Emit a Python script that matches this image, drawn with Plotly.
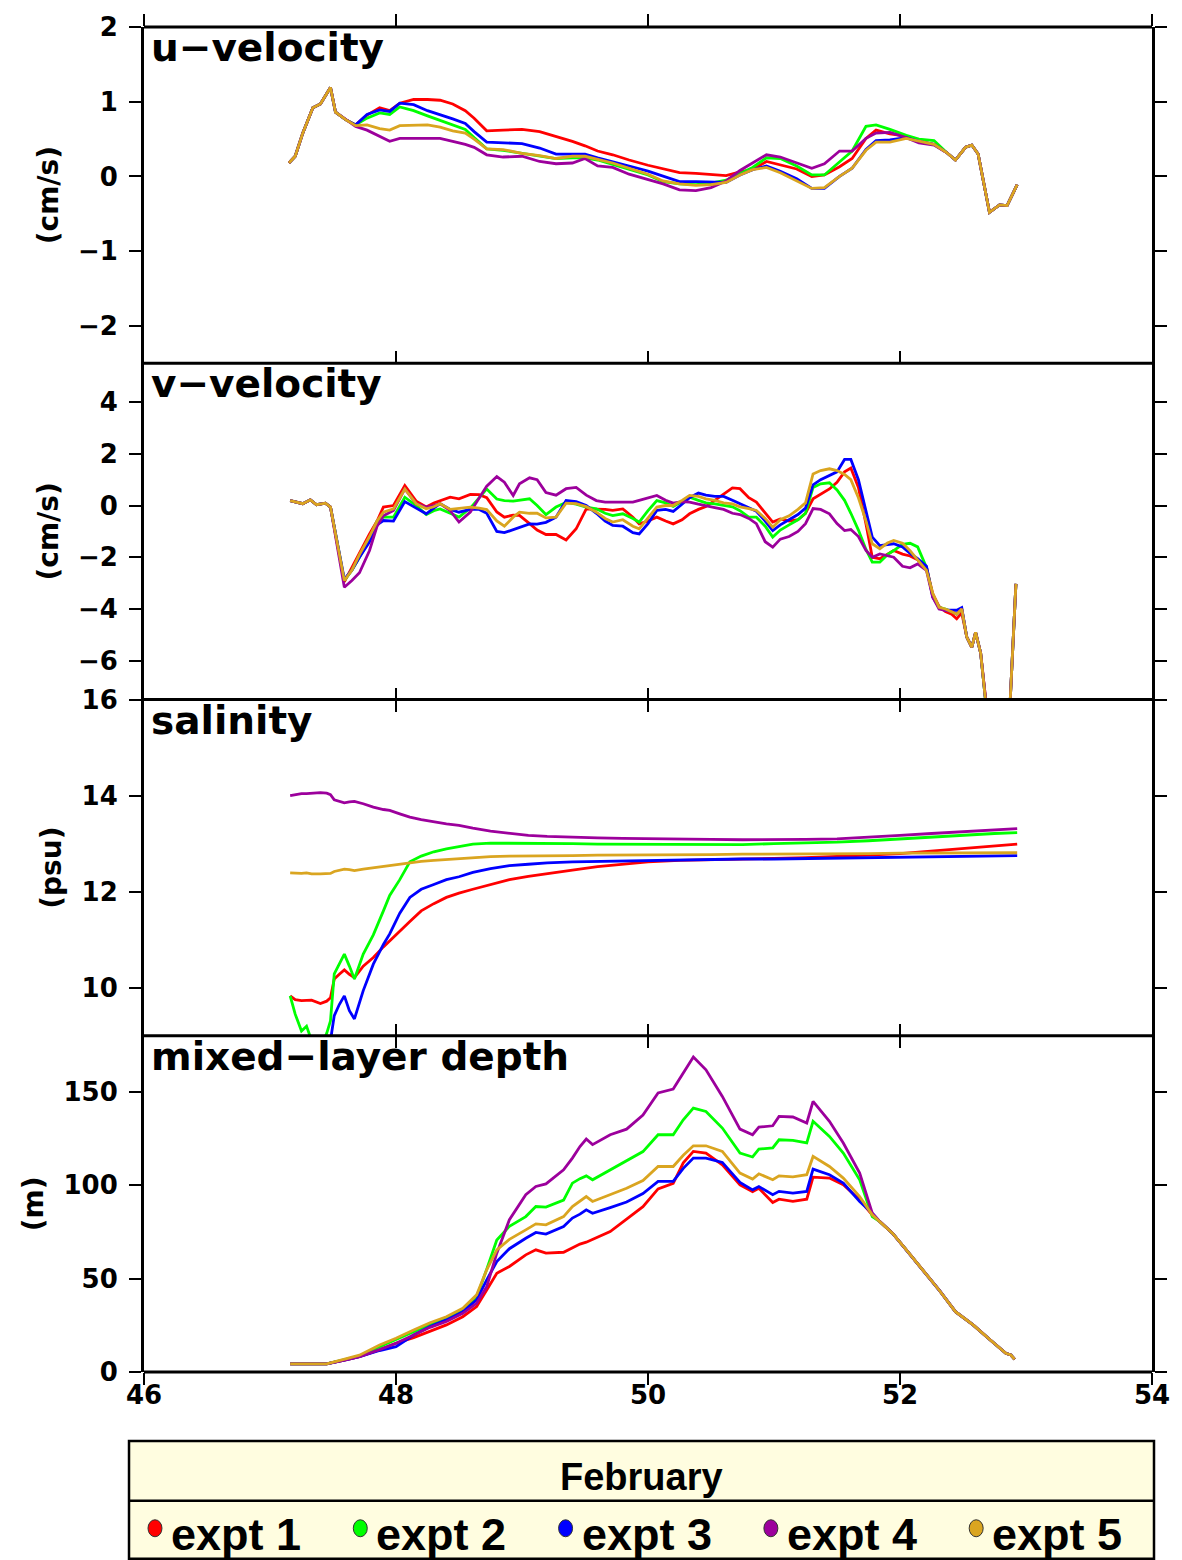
import plotly.graph_objects as go

# ---------------- data ----------------
SERIES_NAMES = ["expt 1", "expt 2", "expt 3", "expt 4", "expt 5"]
SERIES_COLORS = ["#FF0000", "#00FF00", "#0000FF", "#9C009C", "#DAA520"]
PANEL_TITLES = ["u\u2212velocity", "v\u2212velocity", "salinity", "mixed\u2212layer depth"]
PANEL_UNITS = ["(cm/s)", "(cm/s)", "(psu)", "(m)"]
LEGEND_TITLE = "February"

X_TICKS = [46, 48, 50, 52, 54]
U_TICKS = [-2, -1, 0, 1, 2]
V_TICKS = [-6, -4, -2, 0, 2, 4]
S_TICKS = [10, 12, 14, 16]
M_TICKS = [0, 50, 100, 150]

# u-velocity
X_U = [47.15, 47.2, 47.26, 47.34, 47.4, 47.48, 47.52, 47.6, 47.68, 47.77, 47.87, 47.95, 48.03, 48.14,
       48.25, 48.35, 48.45, 48.55, 48.62, 48.72, 48.85, 49.0, 49.14, 49.27, 49.4, 49.5, 49.6, 49.72,
       49.85, 50.0, 50.12, 50.25, 50.38, 50.5, 50.62, 50.73, 50.83, 50.94, 51.05, 51.18, 51.3, 51.4,
       51.52, 51.62, 51.73, 51.81, 51.92, 52.05, 52.15, 52.27, 52.37, 52.44, 52.52, 52.57, 52.62,
       52.71, 52.79, 52.85, 52.93]
U_E1 = [0.18, 0.27, 0.58, 0.92, 0.97, 1.19, 0.86, 0.76, 0.69, 0.82, 0.92, 0.88, 0.98, 1.03, 1.03, 1.02,
        0.97, 0.88, 0.78, 0.61, 0.62, 0.63, 0.60, 0.54, 0.47, 0.41, 0.34, 0.29, 0.22, 0.15, 0.10, 0.05,
        0.04, 0.02, 0.01, 0.06, 0.09, 0.20, 0.15, 0.10, 0.00, 0.02, 0.13, 0.24, 0.51, 0.62, 0.57, 0.54,
        0.47, 0.43, 0.32, 0.22, 0.39, 0.42, 0.30, -0.48, -0.38, -0.39, -0.11]
U_E2 = [0.18, 0.27, 0.58, 0.92, 0.97, 1.19, 0.86, 0.76, 0.69, 0.78, 0.85, 0.83, 0.93, 0.88, 0.81, 0.75,
        0.68, 0.63, 0.52, 0.37, 0.35, 0.31, 0.27, 0.24, 0.25, 0.25, 0.22, 0.16, 0.10, 0.02, -0.07, -0.10,
        -0.11, -0.09, -0.05, 0.04, 0.12, 0.25, 0.24, 0.14, 0.02, 0.02, 0.20, 0.34, 0.67, 0.69, 0.63, 0.55,
        0.50, 0.48, 0.32, 0.22, 0.39, 0.42, 0.30, -0.48, -0.38, -0.39, -0.11]
U_E3 = [0.18, 0.27, 0.58, 0.92, 0.97, 1.19, 0.86, 0.76, 0.69, 0.83, 0.89, 0.87, 0.98, 0.96, 0.88, 0.83,
        0.77, 0.71, 0.60, 0.46, 0.45, 0.44, 0.38, 0.30, 0.30, 0.30, 0.25, 0.20, 0.14, 0.07, 0.00, -0.07,
        -0.07, -0.07, -0.08, 0.02, 0.09, 0.14, 0.07, -0.03, -0.16, -0.16, 0.00, 0.11, 0.36, 0.48, 0.49,
        0.52, 0.47, 0.43, 0.32, 0.22, 0.39, 0.42, 0.30, -0.48, -0.38, -0.39, -0.11]
U_E4 = [0.18, 0.27, 0.58, 0.92, 0.97, 1.19, 0.86, 0.76, 0.67, 0.62, 0.54, 0.47, 0.51, 0.51, 0.51, 0.51,
        0.47, 0.43, 0.39, 0.29, 0.26, 0.27, 0.20, 0.17, 0.18, 0.24, 0.14, 0.12, 0.03, -0.04, -0.10, -0.18,
        -0.19, -0.15, -0.06, 0.08, 0.18, 0.29, 0.26, 0.18, 0.11, 0.17, 0.34, 0.34, 0.51, 0.58, 0.59, 0.52,
        0.45, 0.42, 0.32, 0.22, 0.39, 0.42, 0.30, -0.48, -0.38, -0.39, -0.11]
U_E5 = [0.18, 0.27, 0.58, 0.92, 0.97, 1.19, 0.86, 0.76, 0.68, 0.69, 0.64, 0.62, 0.68, 0.68, 0.69, 0.66,
        0.61, 0.58, 0.50, 0.37, 0.36, 0.31, 0.28, 0.24, 0.27, 0.27, 0.23, 0.18, 0.11, 0.03, -0.06, -0.10,
        -0.12, -0.11, -0.08, 0.02, 0.09, 0.12, 0.05, -0.06, -0.16, -0.15, 0.00, 0.11, 0.35, 0.46, 0.46,
        0.51, 0.47, 0.43, 0.32, 0.22, 0.39, 0.42, 0.30, -0.48, -0.38, -0.39, -0.11]

# v-velocity
X_V = [47.16, 47.21, 47.26, 47.32, 47.37, 47.44, 47.48, 47.59, 47.65, 47.71, 47.79, 47.85, 47.9, 47.98,
       48.07, 48.16, 48.24, 48.3, 48.35, 48.43, 48.5, 48.59, 48.66, 48.72, 48.8, 48.86, 48.93, 48.98,
       49.06, 49.12, 49.19, 49.27, 49.35, 49.43, 49.51, 49.59, 49.66, 49.72, 49.8, 49.88, 49.93, 50.0,
       50.07, 50.14, 50.2, 50.27, 50.33, 50.4, 50.46, 50.53, 50.6, 50.67, 50.73, 50.8, 50.86, 50.93,
       50.99, 51.05, 51.12, 51.19, 51.25, 51.31, 51.37, 51.44, 51.5, 51.56, 51.61, 51.67, 51.73, 51.78,
       51.84, 51.9, 51.95, 52.02, 52.08, 52.14, 52.21, 52.26, 52.31, 52.36, 52.41, 52.45, 52.49, 52.53,
       52.57, 52.6, 52.64, 52.68, 52.72, 52.8, 52.86, 52.92]
V_E1 = [0.19, 0.12, 0.07, 0.22, 0.03, 0.09, -0.06,
        -2.95, -2.4, -1.8, -1.1, -0.6, -0.06, 0.0, 0.77, 0.17, -0.06, 0.1, 0.19, 0.32, 0.26, 0.43, 0.42,
        0.3, -0.25, -0.45, -0.37, -0.38, -0.7, -0.95, -1.12, -1.12, -1.33, -0.9, -0.13, -0.13, -0.15,
        -0.19, -0.13, -0.45, -0.71, -0.6, -0.45, -0.6, -0.71, -0.55, -0.32, -0.15, -0.04, 0.2, 0.45, 0.68,
        0.65, 0.3, 0.13, -0.3, -0.64, -0.52, -0.6, -0.55, -0.3, 0.26, 0.45, 0.64, 0.9, 1.3, 1.45, 0.7,
        -0.71, -2.0, -2.06, -1.9, -1.74, -1.88, -1.95, -2.1, -2.39, -3.42, -3.9, -4.1, -4.2, -4.38, -4.15,
        -5.09, -5.48, -4.9, -5.7, -7.5, -9.5, -10.0, -9.0, -3.03]
V_E2 = [0.19, 0.12, 0.07, 0.22, 0.03, 0.09, -0.06,
        -2.9, -2.5, -2.0, -1.3, -0.6, -0.45, -0.45, 0.32, 0.0, -0.35, -0.2, -0.13, -0.3, -0.45, -0.1, 0.3,
        0.64, 0.25, 0.19, 0.17, 0.2, 0.26, 0.0, -0.35, -0.06, 0.12, 0.05, -0.06, -0.13, -0.3, -0.39, -0.32,
        -0.5, -0.64, -0.2, 0.19, 0.1, -0.04, 0.15, 0.32, 0.2, 0.1, 0.06, 0.0, -0.05, -0.2, -0.45, -0.45,
        -0.8, -1.22, -0.95, -0.75, -0.55, -0.3, 0.7, 0.84, 0.88, 0.6, 0.2, -0.3, -0.95, -1.7, -2.19, -2.19,
        -1.9, -1.74, -1.5, -1.46, -1.6, -2.39, -3.5, -3.94, -4.0, -4.1, -4.2, -4.0,
        -5.09, -5.48, -4.9, -5.7, -7.5, -9.5, -10.0, -9.0, -3.03]
V_E3 = [0.19, 0.12, 0.07, 0.22, 0.03, 0.09, -0.06,
        -2.85, -2.5, -2.0, -1.4, -0.75, -0.58, -0.6, 0.15, -0.1, -0.32, -0.1, 0.07, -0.15, -0.26, -0.15,
        -0.15, -0.3, -1.0, -1.05, -0.94, -0.85, -0.71, -0.72, -0.65, -0.45, 0.19, 0.15, 0.0, -0.3, -0.6,
        -0.77, -0.8, -1.05, -1.1, -0.7, -0.19, -0.15, -0.23, 0.05, 0.3, 0.48, 0.4, 0.35, 0.35, 0.2, 0.06,
        -0.1, -0.22, -0.6, -0.97, -0.75, -0.55, -0.35, -0.1, 0.8, 1.0, 1.15, 1.3, 1.78, 1.78, 1.0, -0.2,
        -1.22, -1.55, -1.5, -1.48, -1.6, -1.85, -2.05, -2.35, -3.55, -3.94, -4.05, -4.06, -4.05, -3.95,
        -5.09, -5.48, -4.9, -5.7, -7.5, -9.5, -10.0, -9.0, -3.03]
V_E4 = [0.19, 0.12, 0.07, 0.22, 0.03, 0.09, -0.06,
        -3.16, -2.9, -2.6, -1.74, -0.8, -0.4, -0.19, 0.64, 0.07, -0.06, 0.0, 0.07, -0.2, -0.64, -0.25, 0.3,
        0.75, 1.12, 0.9, 0.39, 0.84, 1.07, 1.0, 0.5, 0.4, 0.65, 0.7, 0.4, 0.19, 0.13, 0.13, 0.12, 0.13, 0.2,
        0.3, 0.39, 0.2, 0.09, 0.15, 0.13, 0.05, -0.02, -0.08, -0.15, -0.3, -0.35, -0.5, -0.7, -1.4, -1.61,
        -1.3, -1.2, -1.0, -0.7, -0.12, -0.15, -0.32, -0.7, -0.97, -0.93, -1.2, -1.74, -2.0, -1.87, -1.93,
        -2.0, -2.35, -2.41, -2.26, -2.51, -3.55, -4.0, -4.05, -4.1, -4.2, -4.0,
        -5.09, -5.48, -4.9, -5.7, -7.5, -9.5, -10.0, -9.0, -3.03]
V_E5 = [0.19, 0.12, 0.07, 0.22, 0.03, 0.09, -0.06,
        -2.9, -2.5, -1.9, -1.2, -0.6, -0.26, -0.13, 0.64, 0.07, -0.13, -0.05, 0.07, -0.15, -0.1, -0.06,
        -0.1, -0.16, -0.6, -0.8, -0.45, -0.26, -0.3, -0.3, -0.48, -0.45, 0.09, 0.07, -0.04, -0.26, -0.5,
        -0.64, -0.55, -0.8, -0.9, -0.5, -0.06, 0.0, 0.0, 0.2, 0.39, 0.35, 0.26, 0.2, 0.1, 0.06, -0.05,
        -0.12, -0.19, -0.5, -0.84, -0.55, -0.4, -0.15, 0.1, 1.22, 1.35, 1.42, 1.35, 1.2, 1.0, 0.3, -0.6,
        -1.48, -1.67, -1.45, -1.35, -1.46, -1.75, -2.1, -2.51, -3.4, -3.94, -4.0, -4.1, -4.2, -4.0,
        -5.09, -5.48, -4.9, -5.7, -7.5, -9.5, -10.0, -9.0, -3.03]

# salinity
X_S = [47.16, 47.2, 47.25, 47.29, 47.33, 47.4, 47.45, 47.48, 47.51, 47.55, 47.59, 47.63, 47.67, 47.74,
       47.82, 47.9, 47.95, 48.03, 48.11, 48.2, 48.3, 48.4, 48.5, 48.61, 48.75, 48.9, 49.05, 49.2, 49.4,
       49.6, 49.8, 50.0, 50.25, 50.5, 50.75, 51.0, 51.25, 51.5, 51.75, 52.0, 52.25, 52.5, 52.75, 52.93]
S_E1 = [9.83, 9.75, 9.73, 9.74, 9.74, 9.67, 9.72, 9.79, 10.18, 10.28, 10.37, 10.28, 10.21, 10.45, 10.63,
        10.85, 10.98, 11.18, 11.38, 11.6, 11.75, 11.88, 11.97, 12.05, 12.15, 12.25, 12.32, 12.37, 12.45,
        12.52, 12.57, 12.62, 12.65, 12.66, 12.67, 12.69, 12.71, 12.73, 12.76, 12.79, 12.84, 12.89, 12.94,
        12.99]
S_E2 = [9.83, 9.45, 9.1, 9.2, 8.9, 8.75, 9.05, 9.31, 10.29, 10.5, 10.7, 10.45, 10.18, 10.7, 11.1, 11.6,
        11.92, 12.25, 12.62, 12.74, 12.83, 12.89, 12.94, 12.99, 13.01, 13.01, 13.0, 13.0, 13.0, 12.99,
        12.99, 12.99, 12.98, 12.98, 12.98, 13.0, 13.01, 13.03, 13.06, 13.1, 13.14, 13.18, 13.21, 13.23]
S_E3 = [8.5, 8.5, 8.45, 8.5, 8.4, 8.35, 8.5, 8.9, 9.42, 9.65, 9.83, 9.52, 9.35, 9.94, 10.49, 10.9, 11.12,
        11.55, 11.88, 12.05, 12.15, 12.25, 12.31, 12.40, 12.48, 12.54, 12.57, 12.6, 12.62, 12.63, 12.64,
        12.65, 12.66, 12.67, 12.68, 12.68, 12.69, 12.7, 12.71, 12.72, 12.73, 12.74, 12.75, 12.75]
S_E4 = [14.0, 14.02, 14.04, 14.04, 14.05, 14.06, 14.05, 14.02, 13.91, 13.88, 13.85, 13.87, 13.88, 13.83,
        13.76, 13.71, 13.69, 13.62, 13.55, 13.5, 13.45, 13.41, 13.38, 13.32, 13.26, 13.21, 13.17, 13.15,
        13.13, 13.12, 13.11, 13.1, 13.1, 13.09, 13.08, 13.08, 13.09, 13.1, 13.13, 13.17, 13.21, 13.25,
        13.28, 13.31]
S_E5 = [12.39, 12.38, 12.38, 12.39, 12.37, 12.37, 12.38, 12.38, 12.42, 12.45, 12.47, 12.46, 12.44, 12.47,
        12.5, 12.52, 12.54, 12.58, 12.61, 12.63, 12.65, 12.67, 12.69, 12.71, 12.73, 12.74, 12.74, 12.75,
        12.75, 12.76, 12.76, 12.77, 12.77, 12.77, 12.78, 12.78, 12.78, 12.79, 12.79, 12.8, 12.8, 12.8,
        12.81, 12.81]

# mixed-layer depth
X_M = [47.16, 47.3, 47.45, 47.6, 47.71, 47.87, 48.0, 48.14, 48.27, 48.4, 48.53, 48.64, 48.72, 48.8,
       48.9, 49.03, 49.11, 49.19, 49.33, 49.4, 49.46, 49.51, 49.56, 49.7, 49.83, 49.96, 50.08, 50.2,
       50.28, 50.36, 50.46, 50.59, 50.73, 50.83, 50.88, 50.99, 51.04, 51.15, 51.26, 51.31, 51.44, 51.55,
       51.68, 51.78, 51.84, 51.94, 52.05, 52.18, 52.31, 52.44, 52.58, 52.71, 52.84, 52.88, 52.91]
M_E1 = [4.3, 4.3, 4.3, 6.5, 8.2, 12.0, 15.4, 18.4, 21.6, 25.2, 29.6, 35.0, 43.9, 52.9, 56.5, 62.7, 65.4,
        63.6, 64.1, 66.3, 68.5, 69.5, 71.0, 75.2, 81.8, 88.5, 98.0, 101.0, 112.0, 118.1, 117.2, 110.9,
        100.2, 96.6, 98.4, 90.7, 92.5, 91.3, 92.5, 104.3, 103.8, 100.2, 92.2, 84.1,
        80.5, 74.3, 65.4, 54.7, 43.9, 32.3, 25.2, 17.5, 10.0, 9.1, 6.8]
M_E2 = [4.3, 4.3, 4.3, 6.8, 8.5, 13.5, 17.2, 21.6, 25.5, 28.5, 33.0, 40.0, 55.0, 70.7, 78.0, 83.2, 88.6,
        88.3, 92.0, 101.1, 103.5, 105.0, 102.9, 108.2, 112.7, 118.0, 127.0, 127.0, 135.0, 141.3, 139.5,
        130.6, 117.2, 115.1, 119.3, 120.0, 124.3, 124.0, 122.6, 134.2, 126.1, 117.2, 102.9, 83.2,
        80.5, 74.3, 65.4, 54.7, 43.9, 32.3, 25.2, 17.5, 10.0, 9.1, 6.8]
M_E3 = [4.3, 4.3, 4.3, 6.5, 8.2, 11.5, 13.6, 19.8, 24.3, 27.9, 32.3, 38.6, 49.3, 59.1, 66.0, 71.6, 74.7,
        73.8, 77.9, 82.4, 84.5, 86.8, 85.0, 88.0, 91.0, 95.5, 102.0, 102.0, 109.0, 114.5, 114.5, 112.2,
        101.5, 97.5, 99.3, 94.9, 96.7, 95.8, 96.7, 108.6, 105.6, 101.1, 91.3, 85.0,
        80.5, 74.3, 65.4, 54.7, 43.9, 32.3, 25.2, 17.5, 10.0, 9.1, 6.8]
M_E4 = [4.3, 4.3, 4.3, 6.5, 8.2, 12.0, 15.4, 19.8, 23.9, 27.0, 31.4, 36.8, 45.7, 63.6, 81.5, 94.9, 99.3,
        100.7, 108.2, 114.5, 120.7, 124.7, 121.7, 127.0, 130.0, 137.5, 149.4, 151.5, 160.0, 168.6, 161.8,
        147.5, 130.0, 127.0, 131.1, 131.8, 136.8, 136.5, 133.3, 144.9, 134.2, 122.6, 106.5, 85.0,
        80.5, 74.3, 65.4, 54.7, 43.9, 32.3, 25.2, 17.5, 10.0, 9.1, 6.8]
M_E5 = [4.3, 4.3, 4.3, 7.0, 9.0, 14.5, 18.1, 22.5, 26.4, 29.6, 34.1, 41.3, 54.7, 65.4, 71.0, 76.1, 79.3,
        78.8, 83.2, 88.6, 91.5, 93.9, 91.3, 94.9, 98.4, 102.5, 110.0, 110.0, 116.0, 121.1, 121.1, 118.1,
        106.5, 103.3, 106.1, 102.9, 105.0, 104.5, 105.6, 115.4, 110.0, 103.8, 93.9, 84.1,
        80.5, 74.3, 65.4, 54.7, 43.9, 32.3, 25.2, 17.5, 10.0, 9.1, 6.8]

# ---------------- figure ----------------
W, H = 1182, 1560
ML, MR, MT, MB = 144, 29, 25, 188
X_RANGE = [46, 54]
TICK_FONT = dict(family="DejaVu Sans", size=26, color="black", weight="bold")
TITLE_FONT = dict(family="DejaVu Sans", size=28, color="black", weight="bold")

panels = [
    (X_U, [U_E1, U_E2, U_E3, U_E4, U_E5], [-2.5, 2], U_TICKS),
    (X_V, [V_E1, V_E2, V_E3, V_E4, V_E5], [-7.5, 5.5], V_TICKS),
    (X_S, [S_E1, S_E2, S_E3, S_E4, S_E5], [9, 16], S_TICKS),
    (X_M, [M_E1, M_E2, M_E3, M_E4, M_E5], [0, 180], M_TICKS),
]

fig = go.Figure()
layout = {}
annotations = []
shapes = []
n_pan = len(panels)
for i, (xs, ys_list, yr, yt) in enumerate(panels):
    n = i + 1
    sfx = "" if n == 1 else str(n)
    top = 1 - i / n_pan
    bot = 1 - (i + 1) / n_pan
    for name, color, ys in zip(SERIES_NAMES, SERIES_COLORS, ys_list):
        fig.add_trace(go.Scatter(x=xs, y=ys, mode="lines", name=name, showlegend=False,
                                 line=dict(color=color, width=2.8),
                                 xaxis="x" + sfx, yaxis="y" + sfx))
    is_bottom = (n == n_pan)
    xa = dict(domain=[0, 1], anchor="y" + sfx, range=X_RANGE, tickvals=X_TICKS,
              showgrid=False, zeroline=False, showline=False,
              ticks="outside" if is_bottom else "inside", ticklen=12, tickwidth=2, tickcolor="black",
              showticklabels=is_bottom, tickfont=TICK_FONT, ticklabelstandoff=-12,
              mirror="ticks" if n == 3 else False)
    layout["xaxis" + sfx] = xa
    ya = dict(domain=[bot, top], anchor="x" + sfx, range=yr, tickvals=yt,
              showgrid=False, zeroline=False, showline=True, linewidth=3, linecolor="black",
              ticks="outside", ticklen=12, tickwidth=2, tickcolor="black", mirror="ticks",
              tickfont=TICK_FONT, ticklabelstandoff=6,
              title=dict(text=PANEL_UNITS[i], font=TITLE_FONT, standoff=12))
    layout["yaxis" + sfx] = ya
    annotations.append(dict(text="<b>" + PANEL_TITLES[i] + "</b>", xref="paper", yref="paper",
                            x=0, y=top, xanchor="left", yanchor="top", xshift=5, yshift=4,
                            showarrow=False,
                            font=dict(family="DejaVu Sans", size=39, color="black")))

# horizontal frame lines at the panel boundaries
for j in range(n_pan + 1):
    yb = 1 - j / n_pan
    shapes.append(dict(type="line", xref="paper", yref="paper", x0=0, x1=1, y0=yb, y1=yb,
                       line=dict(color="black", width=3)))

# extra tick-only axes: top of first panel (outside) and top of last panel (inside)
layout["xaxis5"] = dict(overlaying="x", anchor="y", side="top", range=X_RANGE, tickvals=X_TICKS,
                        showgrid=False, zeroline=False, showline=False, showticklabels=False,
                        ticks="outside", ticklen=12, tickwidth=2, tickcolor="black")
layout["xaxis6"] = dict(overlaying="x4", anchor="y4", side="top", range=X_RANGE, tickvals=X_TICKS,
                        showgrid=False, zeroline=False, showline=False, showticklabels=False,
                        ticks="inside", ticklen=12, tickwidth=2, tickcolor="black")
fig.add_trace(go.Scatter(x=[None], y=[None], xaxis="x5", yaxis="y", showlegend=False, hoverinfo="skip"))
fig.add_trace(go.Scatter(x=[None], y=[None], xaxis="x6", yaxis="y4", showlegend=False, hoverinfo="skip"))

# ---------------- legend box (drawn manually) ----------------
plot_w = W - ML - MR
plot_h = H - MT - MB


def px_x(px):
    return (px - ML) / plot_w


def px_y(py):
    return (H - MB - py) / plot_h


box_l, box_r, box_t, box_b, box_mid = 129, 1155, 1441, 1559, 1501
shapes.append(dict(type="rect", xref="paper", yref="paper",
                   x0=px_x(box_l), x1=px_x(box_r), y0=px_y(box_b), y1=px_y(box_t),
                   fillcolor="#FFFDE0", line=dict(color="black", width=2.5), layer="below"))
shapes.append(dict(type="line", xref="paper", yref="paper",
                   x0=px_x(box_l), x1=px_x(box_r), y0=px_y(box_mid), y1=px_y(box_mid),
                   line=dict(color="black", width=2.5)))
annotations.append(dict(text="<b>" + LEGEND_TITLE + "</b>", xref="paper", yref="paper",
                        x=px_x((box_l + box_r) / 2), y=px_y(1477), xanchor="center", yanchor="middle",
                        showarrow=False, font=dict(family="Liberation Sans", size=38, color="black")))
item_start = 172
item_step = 205.5
for k, (name, color) in enumerate(zip(SERIES_NAMES, SERIES_COLORS)):
    tx = item_start + k * item_step
    cx = tx - 17
    shapes.append(dict(type="circle", xref="paper", yref="paper",
                       x0=px_x(cx - 7), x1=px_x(cx + 7), y0=px_y(1537), y1=px_y(1520),
                       fillcolor=color, line=dict(color="#333333", width=1)))
    annotations.append(dict(text="<b>" + name + "</b>", xref="paper", yref="paper",
                            x=px_x(tx - 3), y=px_y(1535), xanchor="left", yanchor="middle",
                            showarrow=False,
                            font=dict(family="Liberation Sans", size=45, color="black")))

fig.update_layout(**layout)
fig.update_layout(width=W, height=H, margin=dict(l=ML, r=MR, t=MT, b=MB, pad=0),
                  paper_bgcolor="white", plot_bgcolor="white",
                  annotations=annotations, shapes=shapes, showlegend=False)

fig.write_html("out.html", config={"displayModeBar": False},
               post_script="document.body.style.margin='0';document.body.style.padding='0';")
